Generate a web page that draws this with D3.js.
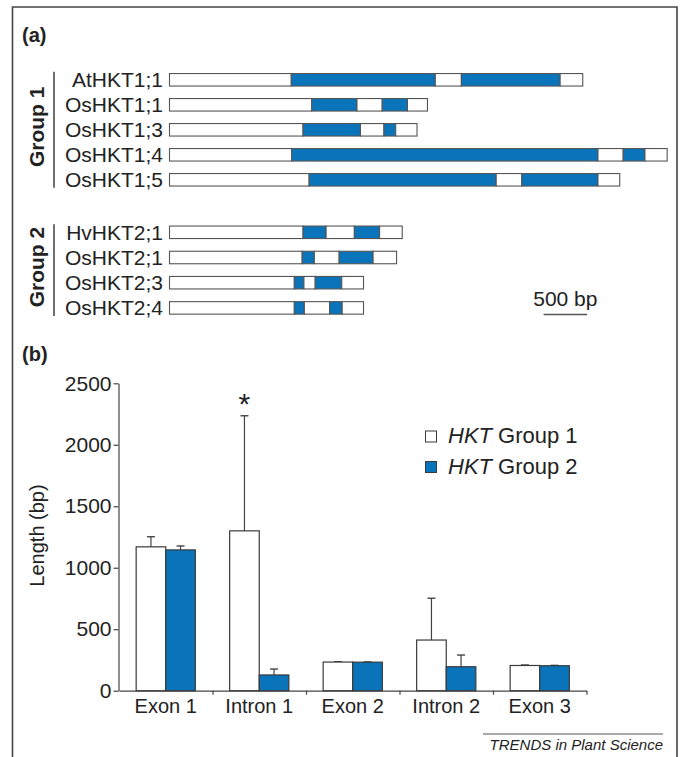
<!DOCTYPE html>
<html>
<head>
<meta charset="utf-8">
<script src="https://cdn.jsdelivr.net/npm/d3@7"></script>
<style>
  body { margin: 0; background: #fff; }
  text { font-family: "Liberation Sans", Arial, sans-serif; fill: #222; }
</style>
</head>
<body>
<script>
"use strict";
(function(){
    // panel (a): gene structures, segment lengths in bp
    // (upstream, exon, intron, exon, downstream)
    const geneNames = ["AtHKT1;1", "OsHKT1;1", "OsHKT1;3", "OsHKT1;4", "OsHKT1;5",
                       "HvHKT2;1", "OsHKT2;1", "OsHKT2;3", "OsHKT2;4"]
    const geneGroups = ["Group 1", "Group 1", "Group 1", "Group 1", "Group 1",
                        "Group 2", "Group 2", "Group 2", "Group 2"]
    const geneSegments = [
        [1400, 1655, 300, 1135, 260],
        [1635, 520, 290, 290, 230],
        [1535, 660, 270, 135, 245],
        [1405, 3520, 290, 250, 255],
        [1605, 2150, 295, 875, 250],
        [1535, 265, 325, 290, 260],
        [1525, 140, 285, 390, 270],
        [1435, 110, 130, 305, 250],
        [1435, 115, 290, 145, 245]
    ]
    const segmentCoding = [false, true, false, true, false]
    const scaleBarBp = 500

    // panel (b): mean lengths (bp) and error bars
    const regions = ["Exon 1", "Intron 1", "Exon 2", "Intron 2", "Exon 3"]
    const seriesNames = ["Group 1", "Group 2"]
    const group1Mean = [1170, 1300, 233, 412, 205]
    const group1Err = [82, 936, 3, 340, 4]
    const group2Mean = [1145, 128, 232, 195, 203]
    const group2Err = [32, 48, 2, 95, 3]
    const yTicks = [0, 500, 1000, 1500, 2000, 2500]

    const blue = "#0a74bb"
    const edge = "#3a3a3a"

    const svg = d3.select("body").append("svg")
        .attr("width", 684)
        .attr("height", 757)

    // frame
    svg.append("path")
        .attr("d", "M12.5,757V7H677V757")
        .attr("fill", "none")
        .attr("stroke", "#444")
        .attr("stroke-width", 1.6)

    drawGenes()
    drawBars()

    function drawGenes() {
        svg.append("text").attr("x", 22).attr("y", 42)
            .attr("font-size", 20).attr("font-weight", "bold").text("(a)")

        const xg = d3.scaleLinear().domain([0, 5800]).range([169.5, 169.5 + 5800 * 0.087])
        const groupRanges = { "Group 1": [79.8, 179.8], "Group 2": [232.3, 307.9] }
        const rowY = {}
        Object.keys(groupRanges).forEach(g => {
            const names = geneNames.filter((n, i) => geneGroups[i] === g)
            const yp = d3.scalePoint().domain(names).range(groupRanges[g])
            names.forEach(n => rowY[n] = yp(n))
            // group bracket and label
            const y0 = groupRanges[g][0] - 8, y1 = groupRanges[g][1] + 8
            svg.append("line").attr("x1", 54).attr("x2", 54)
                .attr("y1", y0).attr("y2", y1)
                .attr("stroke", "#333").attr("stroke-width", 1.4)
            svg.append("text")
                .attr("transform", `translate(44,${(y0 + y1) / 2 - 3}) rotate(-90)`)
                .attr("text-anchor", "middle")
                .attr("font-size", 21).attr("font-weight", "bold")
                .text(g)
        })

        const rows = svg.selectAll(".gene")
            .data(geneNames)
            .enter()
            .append("g")
                .attr("class", "gene")
                .attr("transform", d => `translate(0,${rowY[d]})`)

        rows.append("text")
            .attr("x", 163).attr("y", 7.5)
            .attr("text-anchor", "end")
            .attr("font-size", 21)
            .text(d => d)

        rows.selectAll("rect")
            .data((d, i) => {
                let start = 0
                return geneSegments[i].map((len, j) => {
                    const s = { start: start, len: len, coding: segmentCoding[j] }
                    start += len
                    return s
                })
            })
            .enter()
            .append("rect")
                .attr("x", s => xg(s.start))
                .attr("width", s => xg(s.start + s.len) - xg(s.start))
                .attr("y", -6.25)
                .attr("height", 12.5)
                .attr("fill", s => s.coding ? blue : "#fff")
                .attr("stroke", "#555")
                .attr("stroke-width", 1.1)

        // scale bar
        const sb0 = xg(4300), sb1 = xg(4300 + scaleBarBp)
        svg.append("line").attr("x1", sb0).attr("x2", sb1)
            .attr("y1", 314.5).attr("y2", 314.5)
            .attr("stroke", "#555").attr("stroke-width", 1.5)
        svg.append("text").attr("x", (sb0 + sb1) / 2).attr("y", 306)
            .attr("text-anchor", "middle").attr("font-size", 21)
            .text(scaleBarBp + " bp")
    }

    function drawBars() {
        svg.append("text").attr("x", 22).attr("y", 361)
            .attr("font-size", 20).attr("font-weight", "bold").text("(b)")

        const y = d3.scaleLinear().domain([0, 2500]).range([690.7, 383.3])
        const x = d3.scaleBand().domain(regions).range([119, 586.5])
        const xs = d3.scaleBand().domain(seriesNames).range([0, x.bandwidth()])
            .paddingInner(0).paddingOuter(0.58)

        // y axis
        const yAxis = svg.append("g")
            .attr("transform", "translate(118.5,0)")
            .call(d3.axisLeft(y).tickValues(yTicks).tickFormat(d3.format("d"))
                .tickSize(5).tickSizeOuter(0).tickPadding(2))
        yAxis.selectAll("text").attr("font-size", 21).attr("fill", "#222")
            .style("font-family", "Liberation Sans, Arial, sans-serif")
        yAxis.selectAll("path,line").attr("stroke", "#444").attr("stroke-width", 1.2)

        // x axis: ticks on region boundaries, labels at centres
        const xb = d3.scaleLinear().domain([0, regions.length]).range(x.range())
        const xAxis = svg.append("g")
            .attr("transform", `translate(0,${y(0)})`)
            .call(d3.axisBottom(xb).tickValues(d3.range(1, regions.length + 1))
                .tickSize(4).tickSizeOuter(0).tickFormat(""))
        xAxis.selectAll("path,line").attr("stroke", "#444").attr("stroke-width", 1.2)
        svg.append("g").selectAll("text")
            .data(regions)
            .enter()
            .append("text")
                .attr("x", d => x(d) + x.bandwidth() / 2)
                .attr("y", 713)
                .attr("text-anchor", "middle")
                .attr("font-size", 20)
                .text(d => d)

        const series = [
            { name: "Group 1", mean: group1Mean, err: group1Err, fill: "#fff" },
            { name: "Group 2", mean: group2Mean, err: group2Err, fill: blue }
        ]

        series.forEach(s => {
            const rows = regions.map((r, i) => ({ region: r, mean: s.mean[i], err: s.err[i] }))
            const cx = d => x(d.region) + xs(s.name) + xs.bandwidth() / 2
            const g = svg.append("g")
            g.selectAll("line.err")
                .data(rows).enter().append("line")
                    .attr("x1", cx).attr("x2", cx)
                    .attr("y1", d => y(d.mean)).attr("y2", d => y(d.mean + d.err))
                    .attr("stroke", "#444").attr("stroke-width", 1.2)
            g.selectAll("line.cap")
                .data(rows).enter().append("line")
                    .attr("x1", d => cx(d) - 4).attr("x2", d => cx(d) + 4)
                    .attr("y1", d => y(d.mean + d.err)).attr("y2", d => y(d.mean + d.err))
                    .attr("stroke", "#444").attr("stroke-width", 1.4)
            g.selectAll("rect")
                .data(rows).enter().append("rect")
                    .attr("x", d => x(d.region) + xs(s.name))
                    .attr("width", xs.bandwidth())
                    .attr("y", d => y(d.mean))
                    .attr("height", d => y(0) - y(d.mean))
                    .attr("fill", s.fill)
                    .attr("stroke", edge)
                    .attr("stroke-width", 1.2)
        })

        // significance star over Intron 1, group 1
        svg.append("text")
            .attr("x", x("Intron 1") + xs("Group 1") + xs.bandwidth() / 2)
            .attr("y", y(group1Mean[1] + group1Err[1]) - 2)
            .attr("text-anchor", "middle")
            .attr("font-size", 30)
            .text("*")

        svg.append("text")
            .attr("transform", "translate(44,535.5) rotate(-90)")
            .attr("text-anchor", "middle")
            .attr("font-size", 20)
            .text("Length (bp)")

        // legend
        const legend = svg.append("g")
        series.forEach((s, i) => {
            legend.append("rect")
                .attr("x", 425.5).attr("y", 431 + i * 30.5)
                .attr("width", 11).attr("height", 11)
                .attr("fill", s.fill).attr("stroke", edge).attr("stroke-width", 1)
            const t = legend.append("text")
                .attr("x", 448).attr("y", 443 + i * 30.5)
                .attr("font-size", 22)
            t.append("tspan").attr("font-style", "italic").text("HKT")
            t.append("tspan").text(" " + s.name)
        })

        // footer
        svg.append("line").attr("x1", 483).attr("x2", 663)
            .attr("y1", 734).attr("y2", 734)
            .attr("stroke", "#555").attr("stroke-width", 1)
        svg.append("text").attr("x", 663).attr("y", 750)
            .attr("text-anchor", "end").attr("font-size", 15)
            .attr("font-style", "italic")
            .text("TRENDS in Plant Science")
    }
})()
</script>
</body>
</html>
